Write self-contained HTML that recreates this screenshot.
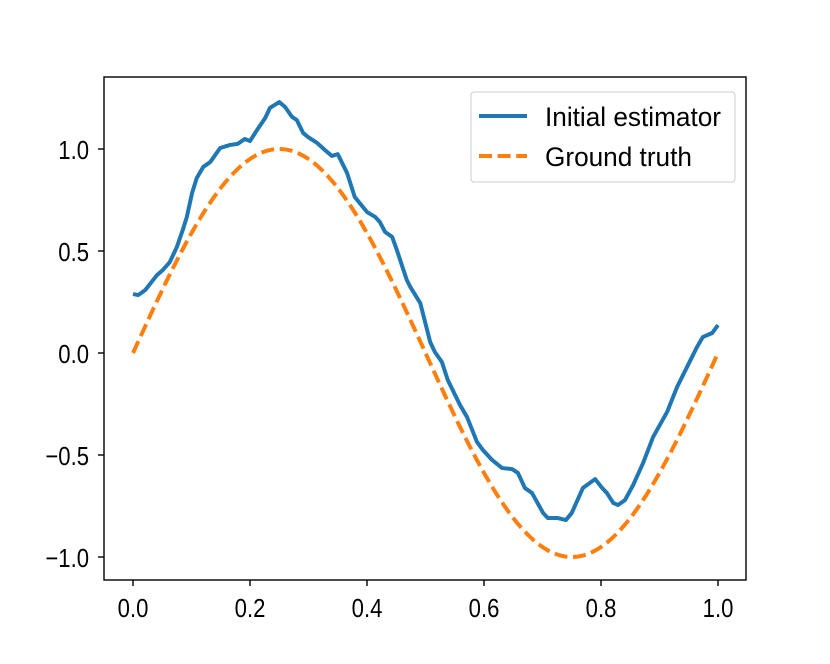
<!DOCTYPE html>
<html><head><meta charset="utf-8"><style>html,body{margin:0;padding:0;background:#fff}svg{display:block;font-family:"Liberation Sans",sans-serif}</style></head>
<body>
<svg id="chart" width="830" height="664" viewBox="0 0 830 664" xmlns="http://www.w3.org/2000/svg"></svg>
<script>
const estX=[0,0.009,0.021,0.041,0.051,0.063,0.075,0.085,0.092,0.101,0.109,0.120,0.132,0.149,0.166,0.179,0.191,0.200,0.212,0.226,0.234,0.250,0.260,0.272,0.280,0.291,0.299,0.315,0.328,0.340,0.350,0.366,0.379,0.400,0.414,0.422,0.431,0.443,0.451,0.468,0.474,0.491,0.508,0.516,0.528,0.538,0.559,0.571,0.588,0.598,0.614,0.631,0.648,0.658,0.670,0.682,0.701,0.709,0.726,0.740,0.750,0.769,0.790,0.802,0.810,0.821,0.829,0.841,0.855,0.872,0.889,0.913,0.930,0.947,0.964,0.974,0.990,1.000];
const estY=[0.289,0.284,0.309,0.382,0.407,0.446,0.520,0.603,0.667,0.784,0.858,0.912,0.936,1.005,1.020,1.025,1.049,1.039,1.093,1.152,1.201,1.230,1.206,1.157,1.142,1.078,1.059,1.029,0.995,0.966,0.975,0.882,0.765,0.691,0.667,0.642,0.593,0.569,0.505,0.358,0.324,0.245,0.054,0.005,-0.044,-0.132,-0.255,-0.314,-0.436,-0.475,-0.525,-0.564,-0.569,-0.588,-0.662,-0.686,-0.784,-0.809,-0.809,-0.819,-0.784,-0.662,-0.618,-0.662,-0.686,-0.735,-0.745,-0.721,-0.647,-0.539,-0.412,-0.289,-0.167,-0.069,0.029,0.078,0.098,0.137];
const xTicks=[0.0,0.2,0.4,0.6,0.8,1.0];
const xTickLabels=["0.0","0.2","0.4","0.6","0.8","1.0"];
const yTicks=[-1.0,-0.5,0.0,0.5,1.0];
const yTickLabels=["\u22121.0","\u22120.5","0.0","0.5","1.0"];
const legendLabels=["Initial estimator","Ground truth"];

const NS="http://www.w3.org/2000/svg";
const svg=document.getElementById('chart');
const L=104,R=746,T=77,B=580;
function sx(v){return 133+v*585;}
function sy(v){return 353-v*204;}
function mk(tag,attrs,parent){const e=document.createElementNS(NS,tag);for(const k in attrs)e.setAttribute(k,attrs[k]);(parent||svg).appendChild(e);return e;}
function ctext(str,x,y,anchor,size,sc,parent){
  const g=mk('g',{transform:'translate('+x+','+y+') scale('+sc+',1)'},parent);
  const t=mk('text',{x:0,y:0,'text-anchor':anchor,'font-size':size,fill:'#000'},g);
  t.textContent=str;
  return t;
}

const gx=[];for(let i=0;i<=200;i++)gx.push(i/200);
const gt=mk('polyline',{points:gx.map(v=>sx(v)+','+sy(Math.sin(2*Math.PI*v))).join(' '),fill:'none',stroke:'#ff7f0e','stroke-width':4,'stroke-dasharray':'13,5.6'});


const est=mk('polyline',{points:estX.map((v,i)=>sx(v)+','+sy(estY[i])).join(' '),fill:'none',stroke:'#1f77b4','stroke-width':4,'stroke-linejoin':'round'});



const frame=mk('rect',{x:L,y:T,width:R-L,height:B-T,fill:'none',stroke:'#000','stroke-width':1.4});



xTicks.forEach((v,i)=>{
  mk('line',{x1:sx(v),x2:sx(v),y1:B,y2:B+6,stroke:'#000','stroke-width':1.4});
  const t=ctext(xTickLabels[i],sx(v),B+37,'middle',26,0.85);
  
  
});
yTicks.forEach((v,i)=>{
  mk('line',{x1:L-6,x2:L,y1:sy(v),y2:sy(v),stroke:'#000','stroke-width':1.4});
  const t=ctext(yTickLabels[i],L-15,sy(v)+10,'end',26,0.85);
  
  
});

const lg=mk('g',{});


mk('rect',{x:471,y:92,width:264,height:90,rx:3,fill:'#fff','fill-opacity':0.8,stroke:'#ccc','stroke-width':1},lg);
const cols=['#1f77b4','#ff7f0e'];
legendLabels.forEach((lab,i)=>{
  const y=116+i*40;
  mk('line',{x1:479,x2:527,y1:y,y2:y,stroke:cols[i],'stroke-width':4,'stroke-dasharray':i?'13,5.6':'none'},lg);
  const t=ctext(lab,545,y+10,'start',27,0.97,lg);
  
  
});
</script>
</body></html>
